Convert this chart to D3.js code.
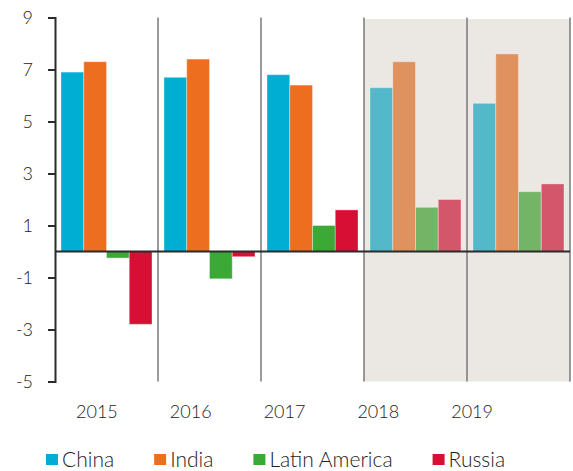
<!DOCTYPE html>
<html>
<head>
<meta charset="utf-8">
<script src="https://cdn.jsdelivr.net/npm/d3@7/dist/d3.min.js"></script>
<style>
  html, body { margin: 0; padding: 0; background: #fff; }
  svg { display: block; font-family: Lato, "Open Sans", sans-serif; font-weight: 300; }
</style>
</head>
<body>
<svg id="chart" width="573" height="471"></svg>
<script>
const years = ["2015", "2016", "2017", "2018", "2019"];
const forecastYears = ["2018", "2019"];
const seriesNames = ["China", "India", "Latin America", "Russia"];
const china = [6.9, 6.7, 6.8, 6.3, 5.7];
const india = [7.3, 7.4, 6.4, 7.3, 7.6];
const latinAmerica = [-0.25, -1.05, 1.0, 1.7, 2.3];
const russia = [-2.8, -0.2, 1.6, 2.0, 2.6];
const yTicks = [-5, -3, -1, 1, 3, 5, 7, 9];

const colors = ["#00aed3", "#ec6e1e", "#3ba935", "#d80f35"];
const fadedColors = ["#53b8c9", "#e0925e", "#73b466", "#d4566b"];

const values = [china, india, latinAmerica, russia];

const svg = d3.select("#chart");
const plotLeft = 55, plotRight = 570, plotTop = 17.5, plotBottom = 381.5;

const x0 = d3.scaleBand().domain(years).range([plotLeft, plotRight]).padding(0);
const bw = x0.bandwidth();
const x1 = d3.scaleBand().domain(seriesNames).range([6, bw - 6]).padding(0);
const y = d3.scaleLinear().domain([-5, 9]).range([plotBottom, plotTop]);
const xLabel = d3.scaleBand().domain(years).range([50, 519]).padding(0);

// shaded forecast region
svg.append("rect")
  .attr("x", x0(forecastYears[0]))
  .attr("y", plotTop + 1.5)
  .attr("width", plotRight - x0(forecastYears[0]))
  .attr("height", plotBottom - plotTop - 1.5)
  .attr("fill", "#ebe7e3");

// bars
years.forEach((yr, i) => {
  const g = svg.append("g").attr("transform", `translate(${x0(yr)},0)`);
  const faded = forecastYears.includes(yr);
  seriesNames.forEach((s, j) => {
    const v = values[j][i];
    g.append("rect")
      .attr("x", x1(s))
      .attr("y", y(Math.max(0, v)))
      .attr("width", x1.bandwidth())
      .attr("height", Math.abs(y(v) - y(0)))
      .attr("fill", faded ? fadedColors[j] : colors[j])
      .attr("stroke", "rgba(255,255,255,0.35)")
      .attr("stroke-width", 1);
  });
});

// separators
years.forEach(yr => {
  svg.append("line")
    .attr("x1", x0(yr) + bw).attr("x2", x0(yr) + bw)
    .attr("y1", plotTop).attr("y2", plotBottom)
    .attr("stroke", "#7a7a7a").attr("stroke-width", 1.5);
});

// zero line
svg.append("line")
  .attr("x1", plotLeft).attr("x2", plotRight)
  .attr("y1", y(0)).attr("y2", y(0))
  .attr("stroke", "#2b2b2b").attr("stroke-width", 2);

// y axis
const yAxis = d3.axisLeft(y).tickValues(yTicks).tickSize(7).tickPadding(15).tickFormat(d => String(d));
const ya = svg.append("g").attr("transform", `translate(${plotLeft},0)`).call(yAxis);
ya.select(".domain").attr("stroke", "#2b2b2b").attr("stroke-width", 2);
ya.selectAll(".tick line").attr("stroke", "#2b2b2b").attr("stroke-width", 2);
ya.selectAll(".tick text").attr("font-size", 18).attr("fill", "#222").attr("font-family", "Lato, sans-serif").attr("font-weight", 300);

// x labels
const xa = svg.append("g").attr("transform", `translate(0,${plotBottom})`)
  .call(d3.axisBottom(xLabel).tickSize(0).tickPadding(24));
xa.select(".domain").remove();
xa.selectAll(".tick text").attr("font-size", 18).attr("fill", "#222").attr("font-family", "Lato, sans-serif").attr("font-weight", 300);

// legend
const legend = svg.append("g").attr("transform", "translate(46,0)");
let lx = 0;
seriesNames.forEach((s, j) => {
  const item = legend.append("g").attr("transform", `translate(${lx},0)`);
  item.append("rect").attr("x", 0).attr("y", 454).attr("width", 12).attr("height", 11).attr("fill", colors[j]);
  const t = item.append("text").attr("x", 16).attr("y", 466.5)
    .attr("font-size", 21).attr("font-weight", 300).attr("fill", "#222").text(s);
  lx += 16 + t.node().getComputedTextLength() + 40;
});
</script>
</body>
</html>
